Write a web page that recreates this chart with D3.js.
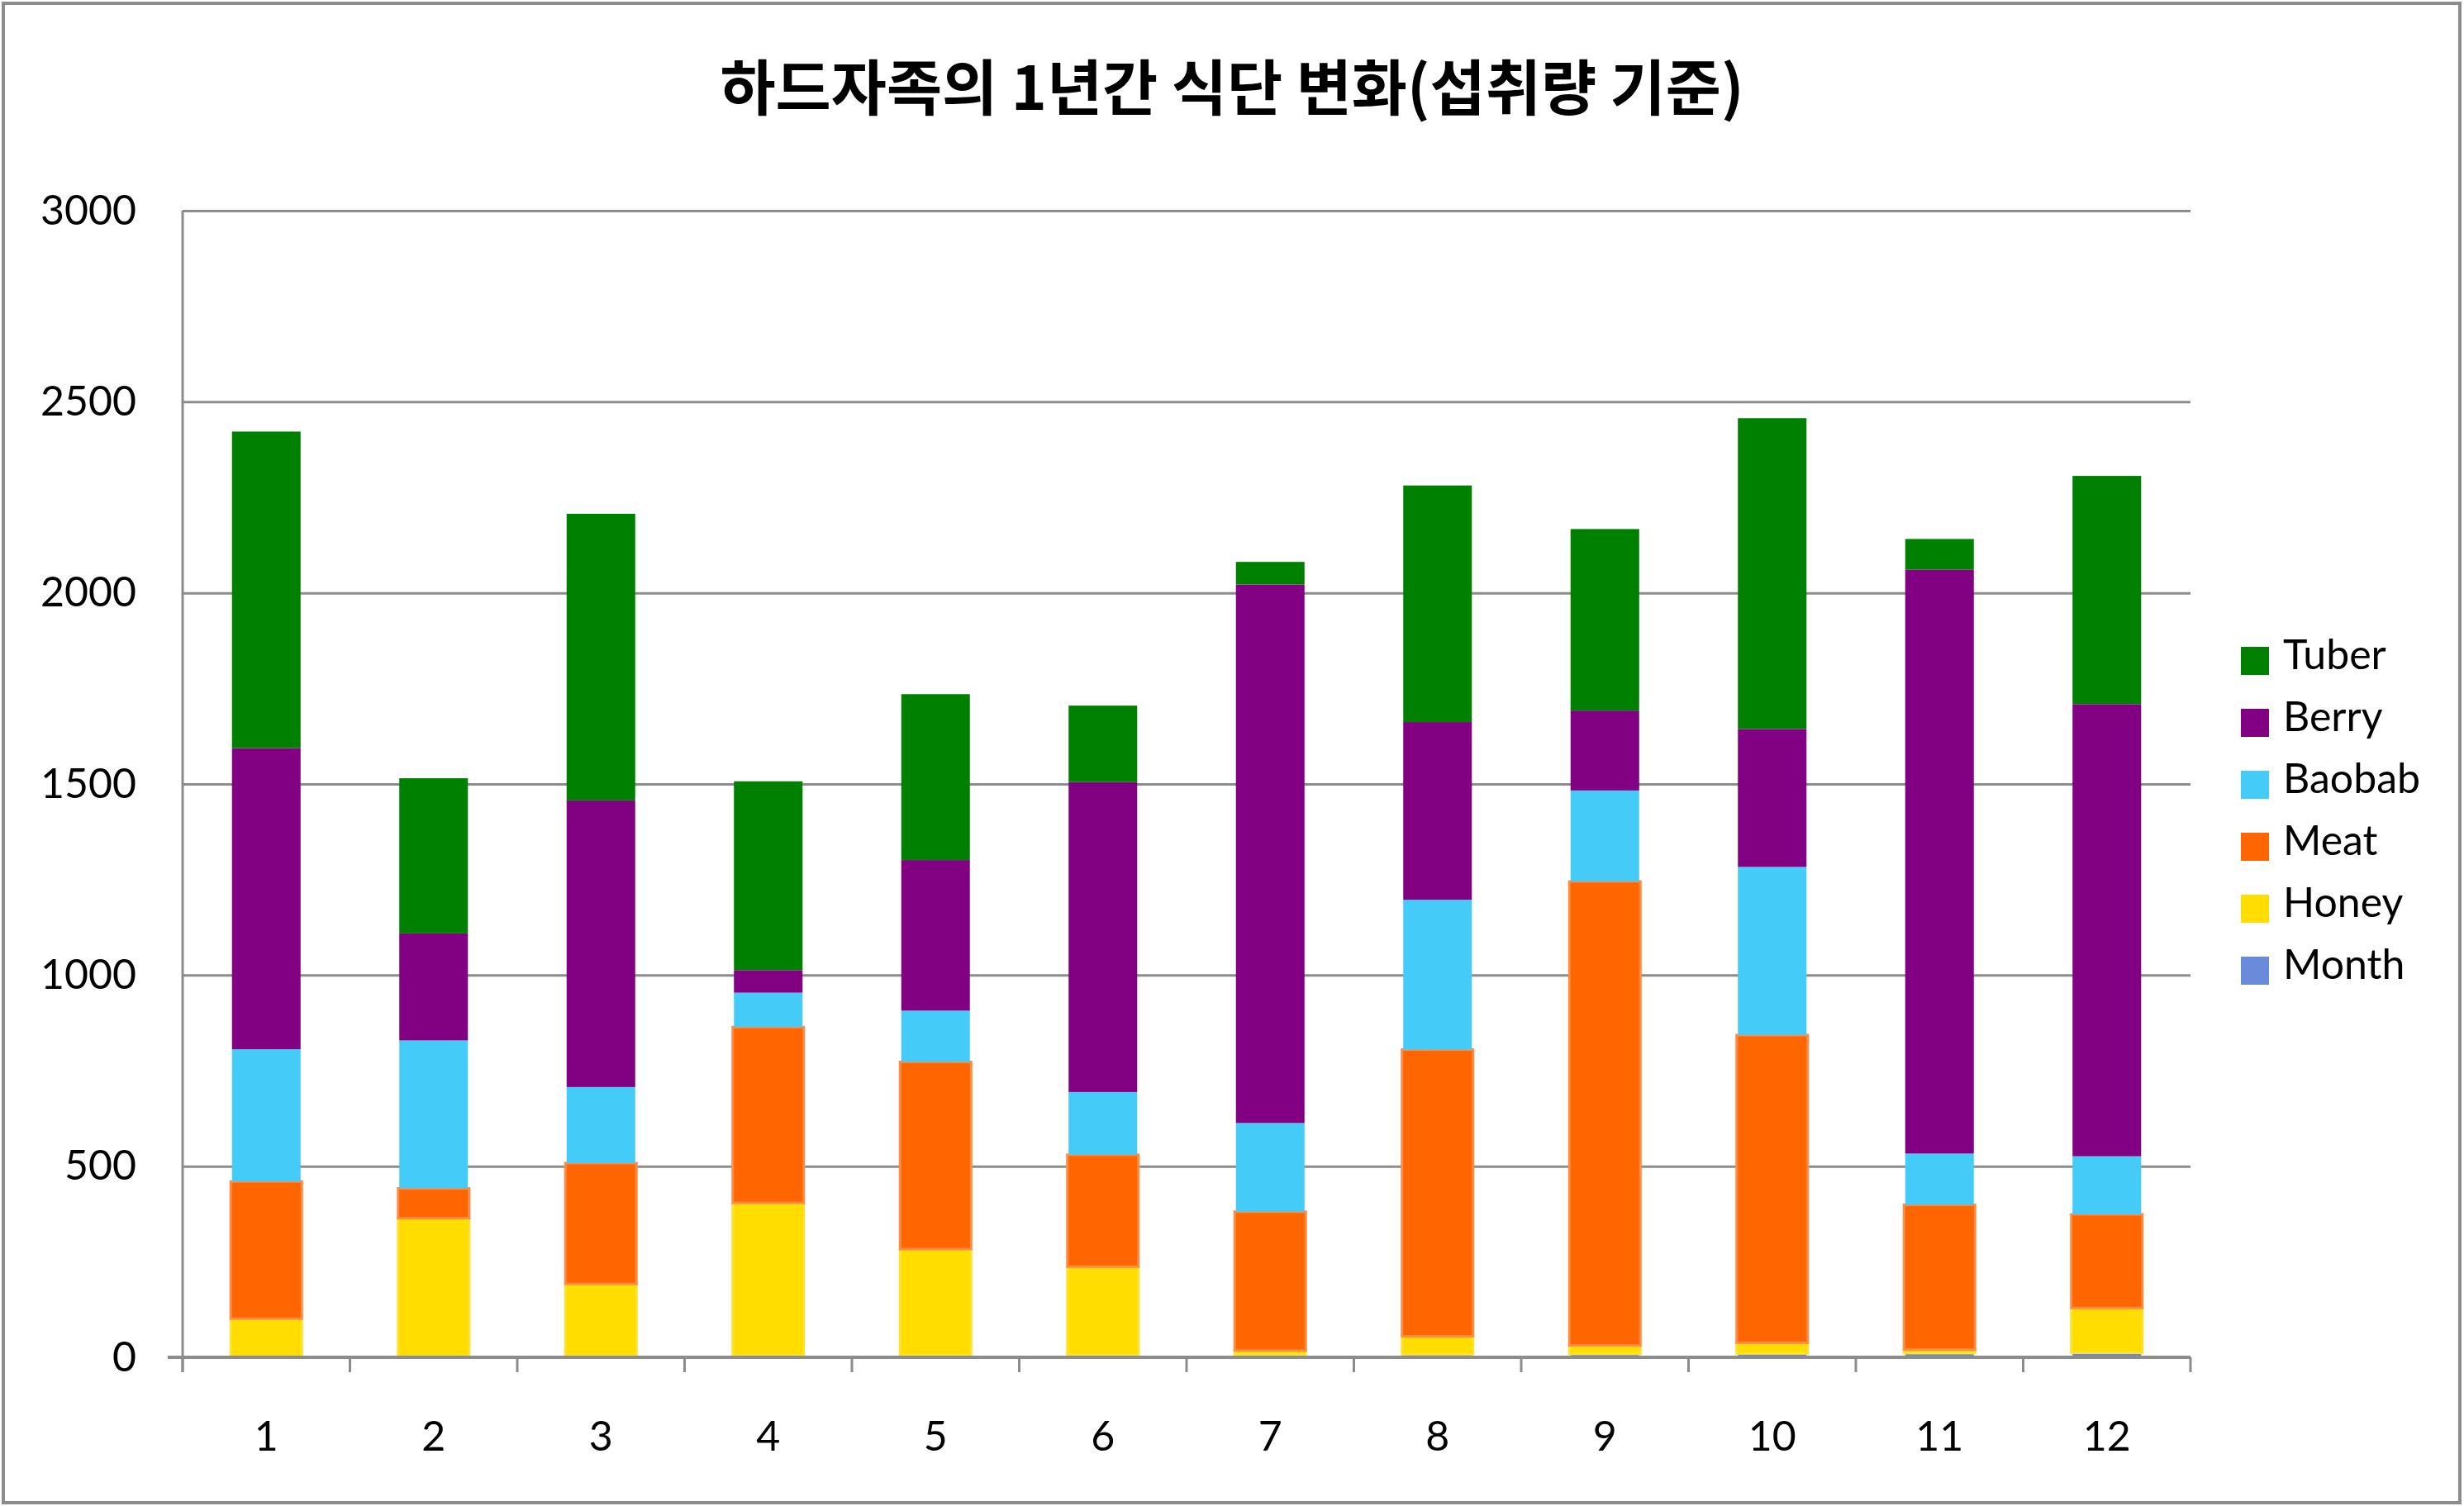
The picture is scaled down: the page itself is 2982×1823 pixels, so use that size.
<!DOCTYPE html>
<html>
<head>
<meta charset="utf-8">
<script src="https://cdn.jsdelivr.net/npm/d3@7"></script>
<style>
  html, body { margin: 0; padding: 0; background: #fff; }
  svg { display: block; }
</style>
</head>
<body>
<svg id="chart" width="2982" height="1823"></svg>
<script>
const months = ["1","2","3","4","5","6","7","8","9","10","11","12"];
const seriesNames = ["Month", "Honey", "Meat", "Baobab", "Berry", "Tuber"];
const monthVals  = [1, 2, 3, 4, 5, 6, 7, 8, 9, 10, 11, 12];
const honeyVals  = [100, 362, 189, 400, 278, 231, 11, 47, 22, 28, 9, 117];
const meatVals   = [359, 78, 316, 460, 490, 293, 363, 750, 1214, 805, 379, 245];
const baobabVals = [346, 387, 199, 90, 134, 164, 232, 392, 238, 440, 134, 152];
const berryVals  = [788, 280, 750, 59, 394, 811, 1409, 465, 209, 361, 1528, 1183];
const tuberVals  = [828, 406, 750, 494, 434, 200, 59, 619, 475, 813, 80, 597];
const yTicks = [0, 500, 1000, 1500, 2000, 2500, 3000];
const titleText = "하드자족의 1년간 식단 변화(섭취량 기준)";

const colors = {
  Month: "#6a8bd9", Honey: "#ffdd00", Meat: "#ff6600",
  Baobab: "#45cbf7", Berry: "#820082", Tuber: "#008000"
};
const strokes = { Honey: "#ffe22e", Meat: "#ff8c46" };

const table = months.map((m, i) => ({
  month: m, Month: monthVals[i], Honey: honeyVals[i], Meat: meatVals[i],
  Baobab: baobabVals[i], Berry: berryVals[i], Tuber: tuberVals[i]
}));

(function draw() {
const svg = d3.select("#chart");
const W = 2982, H = 1823;
const pL = 221, pR = 2651, pT = 255, pB = 1643;

// outer border
svg.append("rect").attr("x", 4).attr("y", 4).attr("width", W - 9).attr("height", H - 8)
  .attr("fill", "#fff").attr("stroke", "#8c8c8c").attr("stroke-width", 4);

// title
svg.append("text").attr("x", 1491).attr("y", 133).attr("text-anchor", "middle")
  .attr("font-family", "'Noto Sans CJK KR', sans-serif").attr("font-weight", "bold")
  .attr("font-size", 73).attr("fill", "#000").text(titleText);

const x = d3.scaleBand().domain(months).range([pL, pR]).paddingInner(0.59).paddingOuter(0.295);
const y = d3.scaleLinear().domain([0, 3000]).range([pB, pT]);

// gridlines
const yAxis = d3.axisLeft(y).tickValues(yTicks).tickSize(-(pR - pL)).tickFormat(d3.format("d")).tickPadding(56);
const gy = svg.append("g").attr("transform", `translate(${pL},0)`).call(yAxis);
gy.select(".domain").remove();
gy.selectAll(".tick line").attr("stroke", "#8c8c8c").attr("stroke-width", 3);
gy.selectAll(".tick text").attr("font-family", "Lato, 'Open Sans', sans-serif")
  .attr("font-size", 50).attr("fill", "#000");

// stacked bars
const stacked = d3.stack().keys(seriesNames)(table);
const layers = svg.append("g").selectAll("g").data(stacked).join("g")
  .attr("fill", d => colors[d.key])
  .attr("stroke", d => strokes[d.key] || "none")
  .attr("stroke-width", d => strokes[d.key] ? 3 : 0);
layers.selectAll("rect").data(d => d.map(v => ({ v, key: d.key }))).join("rect")
  .attr("x", d => x(d.v.data.month) + (strokes[d.key] ? -1.5 : 0))
  .attr("width", d => x.bandwidth() + (strokes[d.key] ? 3 : 0))
  .attr("y", d => y(d.v[1]))
  .attr("height", d => Math.max(0, y(d.v[0]) - y(d.v[1])));

// y axis line
svg.append("line").attr("x1", pL).attr("x2", pL).attr("y1", pT).attr("y2", pB + 18)
  .attr("stroke", "#8c8c8c").attr("stroke-width", 3);
// x axis
svg.append("line").attr("x1", pL - 18).attr("x2", pR).attr("y1", pB).attr("y2", pB)
  .attr("stroke", "#8c8c8c").attr("stroke-width", 4);
const boundaries = months.map(m => x(m) - x.step() * x.paddingInner() / 2).concat([pR]);
svg.append("g").selectAll("line").data(boundaries).join("line")
  .attr("x1", d => d).attr("x2", d => d).attr("y1", pB).attr("y2", pB + 18)
  .attr("stroke", "#8c8c8c").attr("stroke-width", 3);
svg.append("g").selectAll("text").data(months).join("text")
  .attr("x", d => x(d) + x.bandwidth() / 2).attr("y", 1756)
  .attr("text-anchor", "middle")
  .attr("font-family", "Lato, 'Open Sans', sans-serif").attr("font-size", 50).attr("fill", "#000")
  .text(d => d);

// legend
const legendOrder = seriesNames.slice().reverse();
const lg = svg.append("g").selectAll("g").data(legendOrder).join("g")
  .attr("transform", (d, i) => `translate(2712, ${798 + i * 75})`);
lg.append("rect").attr("x", 0).attr("y", -15).attr("width", 34).attr("height", 34)
  .attr("fill", d => colors[d]);
lg.append("text").attr("x", 51).attr("y", 12)
  .attr("font-family", "Lato, 'Open Sans', sans-serif").attr("font-size", 50).attr("fill", "#000")
  .text(d => d);
})();
</script>
</body>
</html>
